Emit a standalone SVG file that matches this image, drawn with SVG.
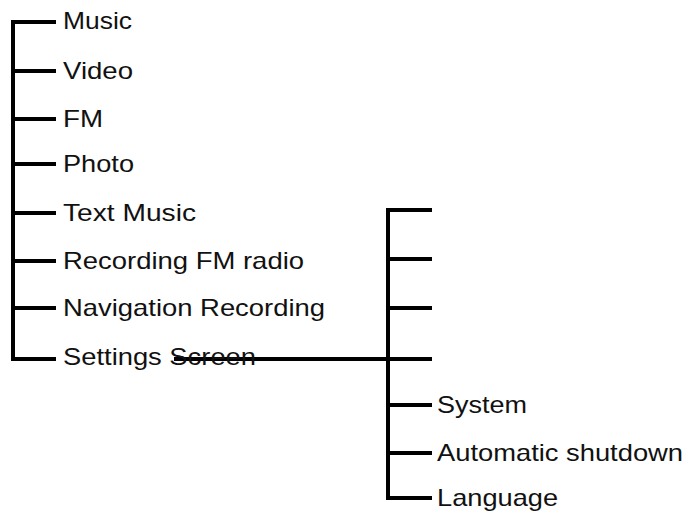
<svg xmlns="http://www.w3.org/2000/svg" width="690" height="517" viewBox="0 0 690 517">
<style>
line{stroke:#000;stroke-width:4;stroke-linecap:square}
text{font-family:"Liberation Sans",Arial,sans-serif;font-size:24px;fill:#111}
</style>
<rect width="690" height="517" fill="#fff"/>
<g id="connectors">
<line x1="13" y1="22" x2="13" y2="359"/>
<line x1="13" y1="22" x2="54" y2="22"/>
<line x1="13" y1="71" x2="54" y2="71"/>
<line x1="13" y1="119" x2="54" y2="119"/>
<line x1="13" y1="164" x2="54" y2="164"/>
<line x1="13" y1="213" x2="54" y2="213"/>
<line x1="13" y1="261" x2="54" y2="261"/>
<line x1="13" y1="308" x2="54" y2="308"/>
<line x1="13" y1="359" x2="54" y2="359"/>
<line x1="176" y1="359" x2="388" y2="359"/>
<line x1="388" y1="210" x2="388" y2="498"/>
<line x1="388" y1="210" x2="430" y2="210"/>
<line x1="388" y1="259" x2="430" y2="259"/>
<line x1="388" y1="308" x2="430" y2="308"/>
<line x1="388" y1="359" x2="430" y2="359"/>
<line x1="388" y1="405" x2="430" y2="405"/>
<line x1="388" y1="453" x2="430" y2="453"/>
<line x1="388" y1="498" x2="430" y2="498"/>
</g>
<g id="n1"><text x="63" y="29" textLength="69" lengthAdjust="spacingAndGlyphs">Music</text></g>
<g id="n2"><text x="63" y="79" textLength="70" lengthAdjust="spacingAndGlyphs">Video</text></g>
<g id="n3"><text x="63" y="127" textLength="40" lengthAdjust="spacingAndGlyphs">FM</text></g>
<g id="n4"><text x="63" y="172" textLength="71" lengthAdjust="spacingAndGlyphs">Photo</text></g>
<g id="n5"><text x="63" y="221" textLength="133" lengthAdjust="spacingAndGlyphs">Text Music</text></g>
<g id="n6"><text x="63" y="269" textLength="241" lengthAdjust="spacingAndGlyphs">Recording FM radio</text></g>
<g id="n7"><text x="63" y="316" textLength="262" lengthAdjust="spacingAndGlyphs">Navigation Recording</text></g>
<g id="n8"><text x="63" y="365" textLength="193" lengthAdjust="spacingAndGlyphs">Settings Screen</text></g>
<g id="n9"><text x="437" y="413" textLength="90" lengthAdjust="spacingAndGlyphs">System</text></g>
<g id="n10"><text x="437" y="461" textLength="246" lengthAdjust="spacingAndGlyphs">Automatic shutdown</text></g>
<g id="n11"><text x="437" y="506" textLength="121" lengthAdjust="spacingAndGlyphs">Language</text></g>
</svg>
